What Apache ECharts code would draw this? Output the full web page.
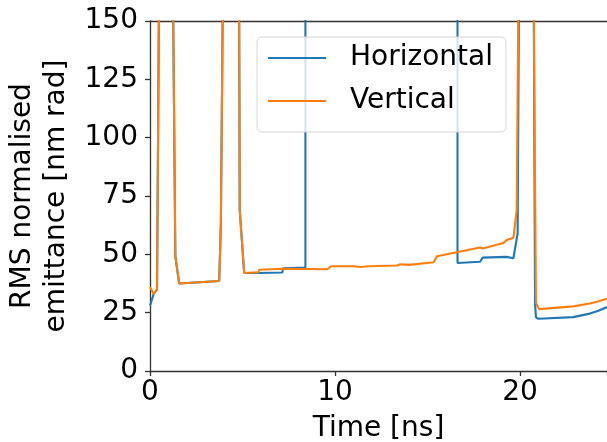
<!DOCTYPE html>
<html>
<head>
<meta charset="utf-8">
<script src="https://cdn.jsdelivr.net/npm/echarts@6/dist/echarts.min.js"></script>
<style>html,body{margin:0;padding:0;background:#fff}#c{width:607px;height:442px}</style>
</head>
<body>
<div id="c"></div>
<script>
// Horizontal emittance (blue)
var timeH = [0, 0.2, 0.38, 0.52, 1.2, 1.37, 1.58, 3.74, 3.83, 3.98, 4.8, 4.85, 5.09, 5.85, 5.9, 7.15, 7.2, 8.4, 8.4, 16.62, 16.62, 17.84, 17.98, 19.26, 19.35, 19.64, 19.87, 19.97, 20.72, 20.81, 20.86, 20.99, 22.87, 23.77, 24.2, 24.7];
var valH  = [28, 33, 35, 200, 200, 49, 37.5, 38.6, 63, 200, 200, 69, 42, 42, 41.6, 42.2, 44, 44.3, 200, 200, 46.3, 46.8, 48.6, 48.9, 48.4, 48.3, 59, 200, 200, 28.9, 23, 22.4, 23.1, 24.6, 25.7, 27.4];
// Vertical emittance (orange)
var timeV = [0, 0.2, 0.38, 0.52, 1.2, 1.37, 1.58, 3.74, 3.83, 3.98, 4.8, 4.85, 5.09, 5.85, 5.9, 7.2, 9.58, 9.79, 11.0, 11.4, 11.8, 13.35, 13.5, 14.0, 15.33, 15.51, 17.84, 17.98, 19.1, 19.28, 19.64, 19.82, 19.95, 20.7, 20.86, 21.04, 22.87, 23.77, 24.2, 24.7];
var valV  = [36, 33, 35, 200, 200, 49, 37.5, 38.6, 63, 200, 200, 69, 42, 42.3, 43.4, 43.8, 43.6, 44.9, 44.9, 44.6, 44.9, 45.2, 45.7, 45.5, 46.6, 49.2, 52.9, 52.5, 54.9, 56.1, 57.1, 69, 200, 200, 29, 26.5, 27.7, 28.9, 29.8, 31];
var seriesNames = ['Horizontal', 'Vertical'];
var xTicks = [0, 10, 20];
var yTicks = [0, 25, 50, 75, 100, 125, 150];

function pairs(t, v) { return t.map(function (x, i) { return [x, v[i]]; }); }

var chart = echarts.init(document.getElementById('c'), null, {renderer: 'canvas'});
var font = 'DejaVu Sans';
var axisLineStyle = {color: '#333', width: 1.3};
chart.setOption({
  animation: false,
  backgroundColor: '#fff',
  textStyle: {fontFamily: font},
  grid: {left: 150, right: 0, top: 21, bottom: 71, containLabel: false, outerBoundsMode: 'none'},
  legend: {
    orient: 'vertical', left: 257, top: 37,
    data: seriesNames,
    icon: 'rect', itemWidth: 58, itemHeight: 2.2,
    itemGap: 9,
    padding: [4, 13, 14, 11],
    backgroundColor: 'rgba(255,255,255,0.8)',
    borderColor: '#d5d5d5', borderWidth: 1, borderRadius: 5,
    textStyle: {fontFamily: font, fontSize: 28, color: '#000', lineHeight: 34, padding: [0, 0, 0, 19]}
  },
  xAxis: [{
    type: 'value', min: 0, max: 24.7, interval: 10,
    name: 'Time [ns]', nameLocation: 'middle', nameGap: 44,
    nameTextStyle: {fontFamily: font, fontSize: 28, color: '#000'},
    axisLine: {show: true, onZero: false, lineStyle: axisLineStyle},
    axisTick: {show: true, inside: false, length: 5, lineStyle: axisLineStyle},
    axisLabel: {fontFamily: font, fontSize: 28, color: '#000', margin: 8,
      formatter: function (v) { return xTicks.indexOf(v) >= 0 ? String(v) : ''; }},
    splitLine: {show: false}
  }, {
    type: 'value', position: 'top', min: 0, max: 24.7,
    axisLine: {show: true, onZero: false, lineStyle: axisLineStyle},
    axisTick: {show: false}, axisLabel: {show: false}, splitLine: {show: false}
  }],
  yAxis: {
    type: 'value', min: 0, max: 150, interval: 25,
    name: 'RMS normalised\nemittance [nm rad]', nameLocation: 'middle', nameGap: 72,
    nameTextStyle: {fontFamily: font, fontSize: 28, color: '#000', lineHeight: 34},
    axisLine: {show: true, onZero: false, lineStyle: axisLineStyle},
    axisTick: {show: true, inside: false, length: 5, lineStyle: axisLineStyle},
    axisLabel: {fontFamily: font, fontSize: 28, color: '#000', margin: 12,
      formatter: function (v) { return yTicks.indexOf(v) >= 0 ? String(v) : ''; }},
    splitLine: {show: false}
  },
  series: [{
    name: seriesNames[0], type: 'line', data: pairs(timeH, valH),
    showSymbol: false, symbol: 'none', clip: true,
    lineStyle: {color: '#1f77b4', width: 2.1}, itemStyle: {color: '#1f77b4'}
  }, {
    name: seriesNames[1], type: 'line', data: pairs(timeV, valV),
    showSymbol: false, symbol: 'none', clip: true,
    lineStyle: {color: '#ff7f0e', width: 2.1}, itemStyle: {color: '#ff7f0e'}
  }]
});
</script>
</body>
</html>
